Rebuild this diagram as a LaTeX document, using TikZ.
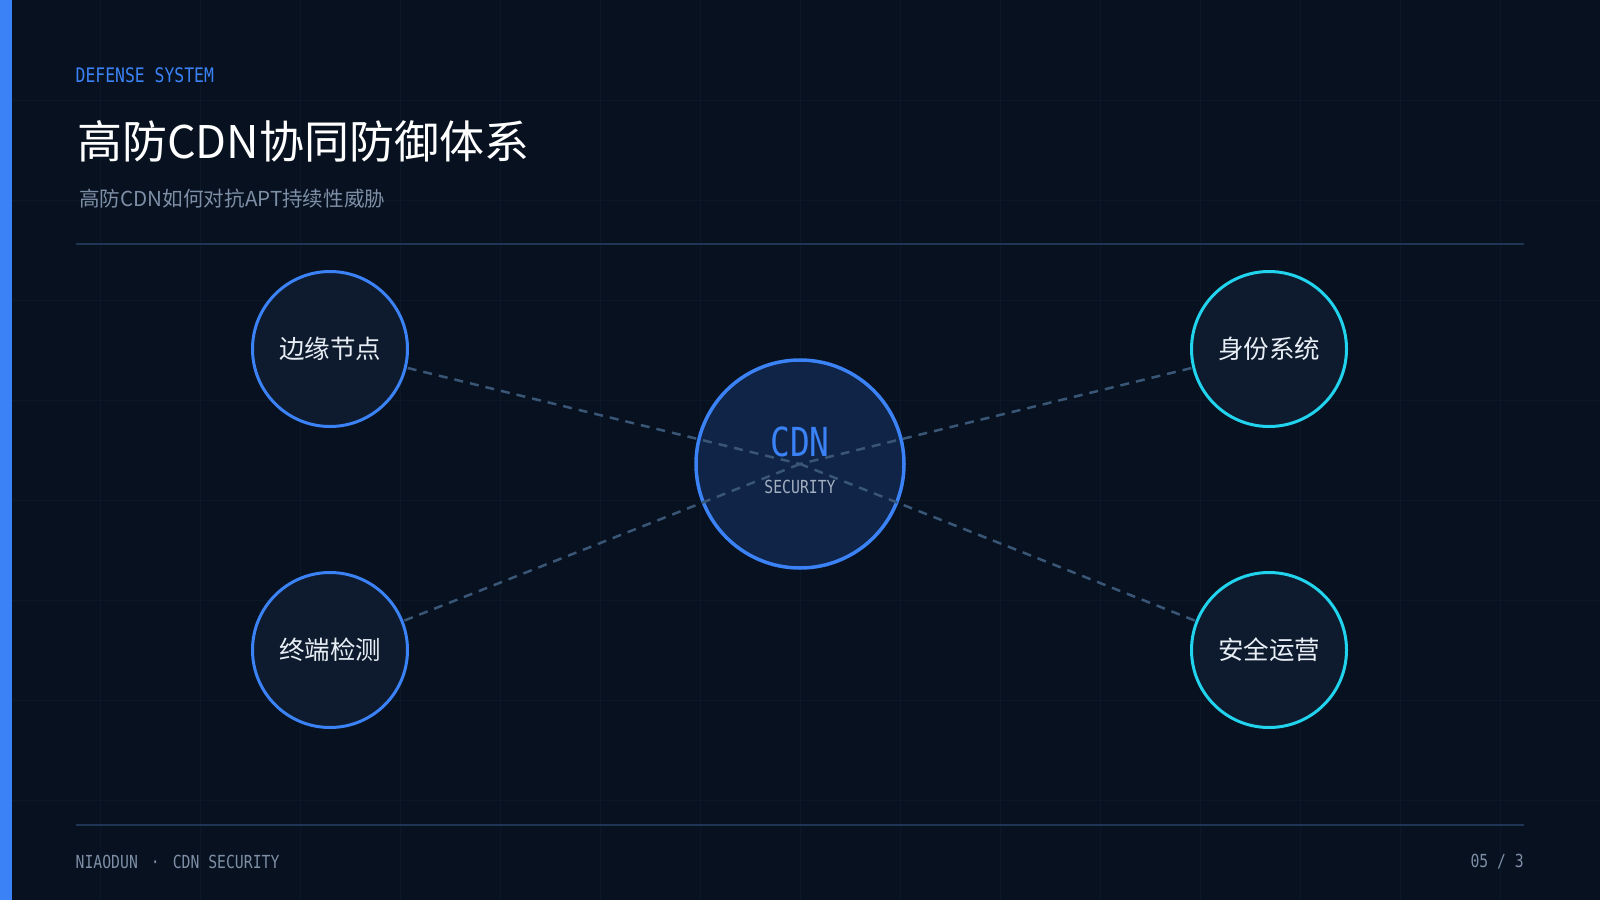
\documentclass[tikz,border=0pt]{standalone}
\usepackage{fontspec}
\setmainfont{Noto Sans CJK SC}
\newfontfamily\cjk{Noto Sans CJK SC}
\newfontfamily\monof[FakeStretch=0.82]{DejaVu Sans Mono}
\definecolor{bg}{HTML}{07111F}
\definecolor{gridc}{HTML}{0B1828}
\definecolor{accent}{HTML}{3B82F6}
\definecolor{cyanc}{HTML}{22D3EE}
\definecolor{rulec}{HTML}{1F3556}
\definecolor{dashc}{HTML}{3A5676}
\definecolor{nodefill}{HTML}{0E1A2D}
\definecolor{cdnfill}{HTML}{0F2446}
\definecolor{greyc}{HTML}{7D8EA6}
\definecolor{secc}{HTML}{A3B0C2}
\definecolor{lightt}{HTML}{E8EEF5}
\tikzset{
  outernode/.style={circle, draw=accent, line width=3pt, fill=nodefill, minimum size=155pt, inner sep=0pt, text=lightt, font=\cjk\fontsize{25.5}{28}\selectfont},
  cyannode/.style={outernode, draw=cyanc},
  cdnnode/.style={circle, draw=accent, line width=3.5pt, fill=cdnfill, minimum size=208pt, inner sep=0pt},
  link/.style={draw=dashc, line width=2.5pt, dash pattern=on 9pt off 7pt},
  rulel/.style={draw=rulec, line width=1.5pt},
}
\begin{document}
\begin{tikzpicture}[x=1pt,y=-1pt]
\useasboundingbox (0,0) rectangle (1600,900);
\fill[bg] (0,0) rectangle (1600,900);
% grid
\foreach \gx in {100,200,...,1500} \draw[gridc, line width=1pt] (\gx,0) -- (\gx,900);
\foreach \gy in {100,200,...,800} \draw[gridc, line width=1pt] (0,\gy) -- (1600,\gy);
% left bar
\fill[accent] (0,0) rectangle (12,900);
% header
\node[anchor=west, inner sep=0pt, text=accent, font=\monof\fontsize{20}{22}\selectfont] (kicker) at (75.5,75) {DEFENSE SYSTEM};
\node[anchor=west, inner sep=0pt, text=white, font=\cjk\fontsize{45}{50}\selectfont] (title) at (77,141) {高防CDN协同防御体系};
\node[anchor=west, inner sep=0pt, text=greyc, font=\cjk\fontsize{20.6}{24}\selectfont] (subtitle) at (79,199) {高防CDN如何对抗APT持续性威胁};
\coordinate (r1a) at (76,244); \coordinate (r1b) at (1524,244);
\draw[rulel] (r1a) -- (r1b);
\coordinate (r2a) at (76,825); \coordinate (r2b) at (1524,825);
\draw[rulel] (r2a) -- (r2b);
% footer
\node[anchor=west, inner sep=0pt, text=greyc, font=\monof\fontsize{18}{20}\selectfont] (foot) at (75.5,862) {NIAODUN\hspace{13pt}·\hspace{13pt}CDN SECURITY};
\node[anchor=east, inner sep=0pt, text=greyc, font=\monof\fontsize{18}{20}\selectfont] (page) at (1524,862) {05 / 3};
% center node
\node[cdnnode] (cdn) at (800,464) {};
% links
\coordinate (c) at (800,464);
\coordinate (pa) at (330,349);
\coordinate (pb) at (330,650);
\coordinate (pc) at (1269,349);
\coordinate (pd) at (1269,650);
\draw[link] (pa) -- (c);
\draw[link] (pb) -- (c);
\draw[link] (pc) -- (c);
\draw[link] (pd) -- (c);
% outer nodes
\node[outernode] (edge) at (pa) {边缘节点};
\node[outernode] (term) at (pb) {终端检测};
\node[cyannode] (iden) at (pc) {身份系统};
\node[cyannode] (ops) at (pd) {安全运营};
% center text
\node[inner sep=0pt, text=accent, font=\monof\fontsize{40}{42}\selectfont] (cdnt) at (800,442) {CDN};
\node[inner sep=0pt, text=secc, font=\monof\fontsize{18}{20}\selectfont] (sec) at (800,487) {SECURITY};
\end{tikzpicture}
\end{document}
